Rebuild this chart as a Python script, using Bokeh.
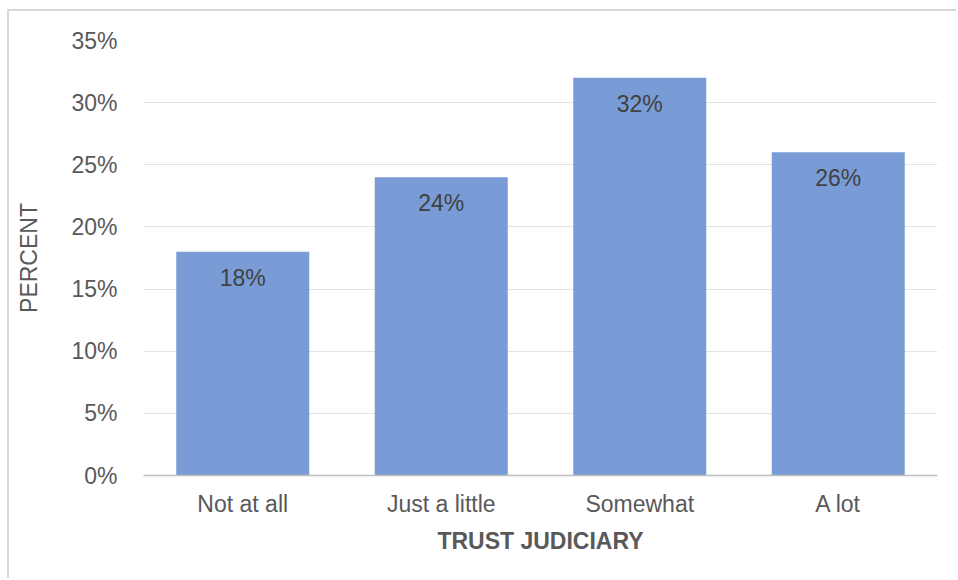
from bokeh.plotting import figure
from bokeh.models import ColumnDataSource, LabelSet, NumeralTickFormatter, FixedTicker, Range1d
from bokeh.core.properties import value
from bokeh.embed import file_html
from bokeh.resources import INLINE

categories = ["Not at all", "Just a little", "Somewhat", "A lot"]
values = [0.18, 0.24, 0.32, 0.26]
labels = ["18%", "24%", "32%", "26%"]
y_ticks = [0, 0.05, 0.10, 0.15, 0.20, 0.25, 0.30, 0.35]

FONT = "Liberation Sans"
src = ColumnDataSource(dict(cat=categories, val=values, lab=labels))

p = figure(x_range=categories, y_range=Range1d(0, 0.35),
           width=949, height=569, output_backend="svg", toolbar_location=None,
           min_border_left=134, min_border_right=21, min_border_top=29, min_border_bottom=105,
           styles={"position": "absolute", "left": "7px", "top": "9px",
                   "border-left": "2px solid #d9d9d9", "border-top": "2px solid #d9d9d9"})
p.outline_line_color = None
p.vbar(x="cat", top="val", width=0.67, source=src, fill_color="#7A9CD6", line_color=None)

p.add_layout(LabelSet(x="cat", y="val", text="lab", source=src, y_offset=-26,
                      text_align="center", text_baseline="middle",
                      text_font=value(FONT), text_font_size="23px", text_color="#404040"))

p.yaxis.ticker = FixedTicker(ticks=y_ticks)
p.yaxis.formatter = NumeralTickFormatter(format="0%")
p.yaxis.axis_line_color = None
p.yaxis.major_tick_line_color = None
p.yaxis.minor_tick_line_color = None
p.yaxis.major_label_standoff = 20
p.yaxis.axis_label = "PERCENT"
p.yaxis.axis_label_standoff = 26

p.xaxis.axis_label = "TRUST JUDICIARY"
p.xaxis.axis_line_color = "#bfbfbf"
p.xaxis.axis_line_width = 1.5
p.xaxis.major_tick_line_color = None
p.xaxis.major_label_standoff = 9
p.xaxis.axis_label_standoff = 8
p.xaxis.axis_label_text_font_style = "bold"

for ax in (p.xaxis, p.yaxis):
    ax.major_label_text_font = FONT
    ax.major_label_text_font_size = "23px"
    ax.major_label_text_color = "#595959"
    ax.axis_label_text_font = FONT
    ax.axis_label_text_font_size = "23px"
    ax.axis_label_text_color = "#595959"
p.yaxis.axis_label_text_font_style = "normal"

p.xgrid.grid_line_color = None
p.ygrid.grid_line_color = "#e3e3e3"
p.ygrid.grid_line_width = 1

open("out.html", "w").write(file_html(p, INLINE))
